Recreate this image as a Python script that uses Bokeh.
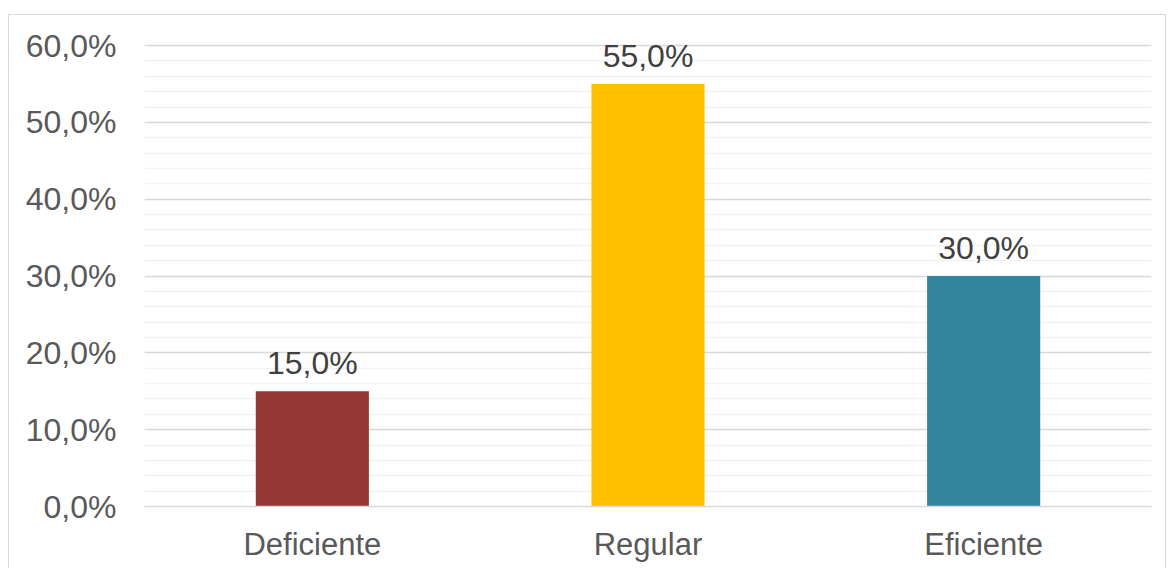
from bokeh.plotting import figure
from bokeh.models import (ColumnDataSource, LabelSet, FactorRange, SingleIntervalTicker,
                          CustomJSTickFormatter, Range1d)
from bokeh.core.properties import value
from bokeh.embed import file_html
from bokeh.resources import INLINE

# Data (percent)
categories = ["Deficiente", "Regular", "Eficiente"]
values = [15.0, 55.0, 30.0]
colors = ["#943634", "#FFC000", "#31859C"]
value_labels = [f"{v:.1f}".replace(".", ",") + "%" for v in values]
axis_max = 60

source = ColumnDataSource(dict(cat=categories, val=values, color=colors, lbl=value_labels))

FONT = "Liberation Sans"

# the range runs a little past the top tick so value labels have room above the bars
p = figure(
    width=1158, height=554,
    x_range=FactorRange(*categories, range_padding=0.0),
    y_range=Range1d(0, 63.52),
    output_backend="svg", toolbar_location=None,
    min_border_left=135, min_border_right=16, min_border_top=3, min_border_bottom=63,
)
# light frame around the whole chart area
p.styles = {"margin-left": "8px", "margin-top": "14px",
            "border-top": "1px solid #d9d9d9", "border-left": "1px solid #d9d9d9",
            "border-right": "1px solid #d9d9d9"}
p.outline_line_color = None
p.background_fill_color = "white"
p.border_fill_color = "white"

p.vbar(x="cat", top="val", width=0.337, color="color", source=source, line_color=None)

# Value labels above bars
labels = LabelSet(x="cat", y="val", text="lbl", source=source, text_align="center",
                  text_baseline="alphabetic", y_offset=17, text_font=value(FONT),
                  text_font_size="32px", text_color="#404040")
p.add_layout(labels)

# Y axis
p.yaxis.ticker = SingleIntervalTicker(interval=10, num_minor_ticks=5)
p.yaxis.bounds = (0, axis_max)
p.yaxis.formatter = CustomJSTickFormatter(code="return tick.toFixed(1).replace('.', ',') + '%';")
p.yaxis.axis_line_color = None
p.yaxis.major_tick_line_color = None
p.yaxis.minor_tick_line_color = None
p.yaxis.major_tick_out = 0
p.yaxis.minor_tick_out = 0
p.yaxis.major_label_text_font = FONT
p.yaxis.major_label_text_font_size = "32px"
p.yaxis.major_label_text_color = "#595959"
p.yaxis.major_label_standoff = 28

# X axis
p.xaxis.axis_line_color = "#d9d9d9"
p.xaxis.axis_line_width = 1.5
p.xaxis.major_tick_line_color = None
p.xaxis.minor_tick_line_color = None
p.xaxis.major_tick_out = 0
p.xaxis.major_label_text_font = FONT
p.xaxis.major_label_text_font_size = "31px"
p.xaxis.major_label_text_color = "#595959"
p.xaxis.major_label_standoff = 20

# Grid, limited to the 0-60 span
p.xgrid.grid_line_color = None
p.ygrid.bounds = (0, axis_max)
p.ygrid.grid_line_color = "#d9d9d9"
p.ygrid.grid_line_width = 1.5
p.ygrid.minor_grid_line_color = "#f2f2f2"
p.ygrid.minor_grid_line_width = 1.5

open("out.html", "w").write(file_html(p, INLINE))
